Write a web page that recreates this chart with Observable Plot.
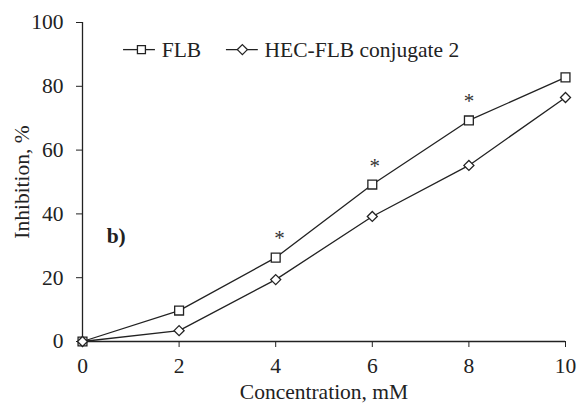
<!DOCTYPE html>
<html><head><meta charset="utf-8">
<script src="https://cdn.jsdelivr.net/npm/d3@7"></script>
<script src="https://cdn.jsdelivr.net/npm/@observablehq/plot@0.6"></script>
<style>body{margin:0;background:#fff}</style>
</head><body><div id="chart"></div>
<script>
const concentrations = [0, 2, 4, 6, 8, 10];
const flbValues = [0, 9.7, 26.3, 49.2, 69.3, 82.8];
const hecValues = [0, 3.4, 19.4, 39.2, 55.2, 76.5];
const seriesNames = ["FLB", "HEC-FLB conjugate 2"];
const starX = [4.08, 6.05, 8.0];
const starY = [34, 56.5, 77];
const xTicks = [0, 2, 4, 6, 8, 10];
const yTicks = [0, 20, 40, 60, 80, 100];

const flb = concentrations.map((c, i) => ({x: c, y: flbValues[i]}));
const hec = concentrations.map((c, i) => ({x: c, y: hecValues[i]}));
const stars = starX.map((x, i) => ({x, y: starY[i]}));
const legend = [
  {x1: 0.85, x2: 1.51, xm: 1.22, tx: 1.64, y: 91.5, name: seriesNames[0], sym: "square"},
  {x1: 2.98, x2: 3.64, xm: 3.31, tx: 3.77, y: 91.5, name: seriesNames[1], sym: "diamond2"}
];

const font = "Liberation Serif, Times New Roman, serif";
const fs = 21.5;
const tfs = 21.5;
const chart = Plot.plot({
  width: 579, height: 405,
  marginLeft: 82, marginRight: 14, marginTop: 22, marginBottom: 64,
  style: {fontFamily: font, fontSize: fs + "px", color: "#1a1a1a", background: "#fff"},
  x: {domain: [0, 10], ticks: xTicks},
  y: {domain: [0, 100], ticks: yTicks},
  marks: [
    Plot.axisX(xTicks, {tickSize: 6, tickFormat: () => "", label: null, stroke: "#222"}),
    Plot.axisY(yTicks, {tickSize: 6, tickFormat: () => "", label: null, stroke: "#222"}),
    Plot.text(xTicks, {x: d => d, frameAnchor: "bottom", lineAnchor: "middle", dy: 25, text: d => String(d), fontSize: tfs, fill: "#222"}),
    Plot.text(yTicks, {y: d => d, frameAnchor: "left", textAnchor: "end", dx: -19, text: d => String(d), fontSize: tfs, fill: "#222"}),
    Plot.ruleX([0], {y1: 0, y2: 100, stroke: "#222", strokeWidth: 1.3}),
    Plot.ruleY([0], {x1: 0, x2: 10, stroke: "#222", strokeWidth: 1.3}),
    Plot.line(flb, {x: "x", y: "y", stroke: "#222", strokeWidth: 1.3}),
    Plot.line(hec, {x: "x", y: "y", stroke: "#222", strokeWidth: 1.3}),
    Plot.dot(flb, {x: "x", y: "y", symbol: "square", r: 5, stroke: "#222", fill: "#fff", strokeWidth: 1.3}),
    Plot.dot(hec, {x: "x", y: "y", symbol: "diamond2", r: 4.5, stroke: "#222", fill: "#fff", strokeWidth: 1.3}),
    Plot.text(stars, {x: "x", y: "y", text: () => "*", fontSize: 21, dy: 5, fill: "#333"}),
    Plot.text(["b)"], {x: 0.5, y: 33, text: d => d, fontSize: fs, fontWeight: "bold", textAnchor: "start", fill: "#222"}),
    Plot.ruleY(legend, {x1: "x1", x2: "x2", y: "y", stroke: "#222", strokeWidth: 1.3}),
    Plot.dot(legend, {x: "xm", y: "y", symbol: "sym", r: 4.5, stroke: "#222", fill: "#fff", strokeWidth: 1.3}),
    Plot.text(legend, {x: "tx", y: "y", text: "name", textAnchor: "start", fontSize: fs, fill: "#222"}),
    Plot.text(["Concentration, mM"], {frameAnchor: "bottom", text: d => d, dy: 57, fontSize: fs, fill: "#222"}),
    Plot.text(["Inhibition, %"], {frameAnchor: "left", textAnchor: "middle", text: d => d, dx: -60, rotate: -90, fontSize: fs, fill: "#222"})
  ]
});
document.getElementById("chart").appendChild(chart);
</script>
</body></html>
